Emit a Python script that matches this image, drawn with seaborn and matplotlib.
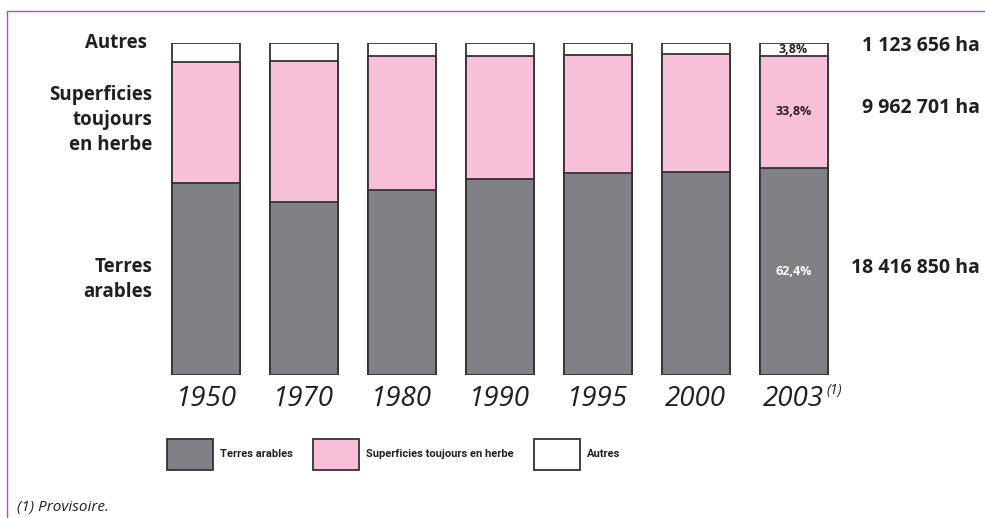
import matplotlib
matplotlib.use("Agg")
import matplotlib.pyplot as plt
import matplotlib.transforms as mtransforms
from matplotlib import font_manager
from matplotlib.lines import Line2D
from matplotlib.patches import Patch
import seaborn as sns
import pandas as pd

years = ["1950", "1970", "1980", "1990", "1995", "2000", "2003"]
terres_arables = [57.8, 52.1, 55.7, 58.9, 60.7, 61.0, 62.4]
superficies_herbe = [36.5, 42.6, 40.5, 37.1, 35.8, 35.6, 33.8]
autres = [5.7, 5.3, 3.8, 4.0, 3.5, 3.4, 3.8]

pct_2003 = ["62,4%", "33,8%", "3,8%"]
surfaces_2003 = ["18 416 850 ha", "9 962 701 ha", "1 123 656 ha"]
legend_labels = ["Terres arables", "Superficies toujours en herbe", "Autres"]

GREY = "#808185"
PINK = "#f7c0d8"
WHITE = "#ffffff"
EDGE = "#333333"
TXT = "#231f20"
FRAME = "#e0399a"

sns.set_style("white")
plt.rcParams["font.family"] = ["Open Sans", "DejaVu Sans"]

installed = {f.name for f in font_manager.fontManager.ttflist}
narrow = "Liberation Sans Narrow" if "Liberation Sans Narrow" in installed else "Roboto"

df = pd.DataFrame({"annee": years, "arables": terres_arables,
                   "herbe": superficies_herbe, "autres": autres})
df["cum_herbe"] = df["arables"] + df["herbe"]
df["cum_total"] = df["cum_herbe"] + df["autres"]

fig = plt.figure(figsize=(9.85, 5.18), dpi=100)
ax = fig.add_axes([0.1594, 0.276, 0.696, 0.641])

# stacked bars: tallest first, then overlay
for col, color in [("cum_total", WHITE), ("cum_herbe", PINK), ("arables", GREY)]:
    sns.barplot(data=df, x="annee", y=col, order=years, color=color, saturation=1,
                edgecolor=EDGE, linewidth=1.3, width=0.695, errorbar=None, ax=ax)

ax.set_xlim(-0.5, len(years) - 0.5)
ax.set_ylim(0, 100)
ax.set_xlabel("")
ax.set_ylabel("")
ax.set_yticks([])
sns.despine(ax=ax, left=True, bottom=True)
ax.tick_params(axis="x", length=0, pad=7)
ax.set_xticks(range(len(years)))
ax.set_xticklabels(years, fontsize=20, style="italic", color=TXT)
ax.text(len(years) - 1 + 0.335, -4.8, "(1)", fontsize=10, style="italic", color=TXT,
        ha="left", va="center")

# percentages for 2003
last = len(years) - 1
centers = [terres_arables[last] / 2,
           terres_arables[last] + superficies_herbe[last] / 2,
           terres_arables[last] + superficies_herbe[last] + autres[last] / 2]
pct_colors = [WHITE, TXT, TXT]
for y, lab, c in zip(centers, pct_2003, pct_colors):
    ax.text(last, y, lab, ha="center", va="center", fontsize=9, fontweight="bold", color=c)

# surfaces on the right
trans = mtransforms.blended_transform_factory(fig.transFigure, ax.transData)
for y, lab in zip(centers, surfaces_2003):
    ax.text(980 / 985, y + 1, lab, transform=trans, ha="right", va="center",
            fontsize=14, fontweight="bold", color=TXT)

# category labels on the left
ax.text(-0.015, 1.0, "Autres", transform=ax.transAxes, ha="right", va="center",
        fontsize=13.5, fontweight="bold", color=TXT)
ax.text(-0.007, 0.768, "Superficies\ntoujours\nen herbe", transform=ax.transAxes,
        ha="right", va="center", fontsize=13.5, fontweight="bold", color=TXT,
        linespacing=1.32)
ax.text(-0.007, 0.287, "Terres\narables", transform=ax.transAxes, ha="right",
        va="center", fontsize=13.5, fontweight="bold", color=TXT, linespacing=1.32)

# legend
handles = [Patch(facecolor=c, edgecolor=EDGE, linewidth=1.3) for c in (GREY, PINK, WHITE)]
leg = ax.legend(handles, legend_labels, ncol=3, frameon=False, loc="center left",
                bbox_to_anchor=(0.0146, -0.238), borderpad=0, borderaxespad=0,
                handlelength=4.14, handleheight=3.92, handletextpad=0.63,
                columnspacing=1.8, prop={"family": narrow, "size": 8, "weight": "bold"})
for t in leg.get_texts():
    t.set_color(TXT)

# footnote
fig.text(17 / 985, 1 - 507 / 518, "(1) Provisoire.", fontsize=11, style="italic",
         color=TXT, ha="left", va="center")

# pink frame
fig.add_artist(Line2D([7 / 985, 1], [1 - 11 / 518] * 2, transform=fig.transFigure,
                      color=FRAME, lw=1))
fig.add_artist(Line2D([7 / 985] * 2, [0, 1 - 11 / 518], transform=fig.transFigure,
                      color=FRAME, lw=1))

fig.savefig("out.png", dpi=100)
